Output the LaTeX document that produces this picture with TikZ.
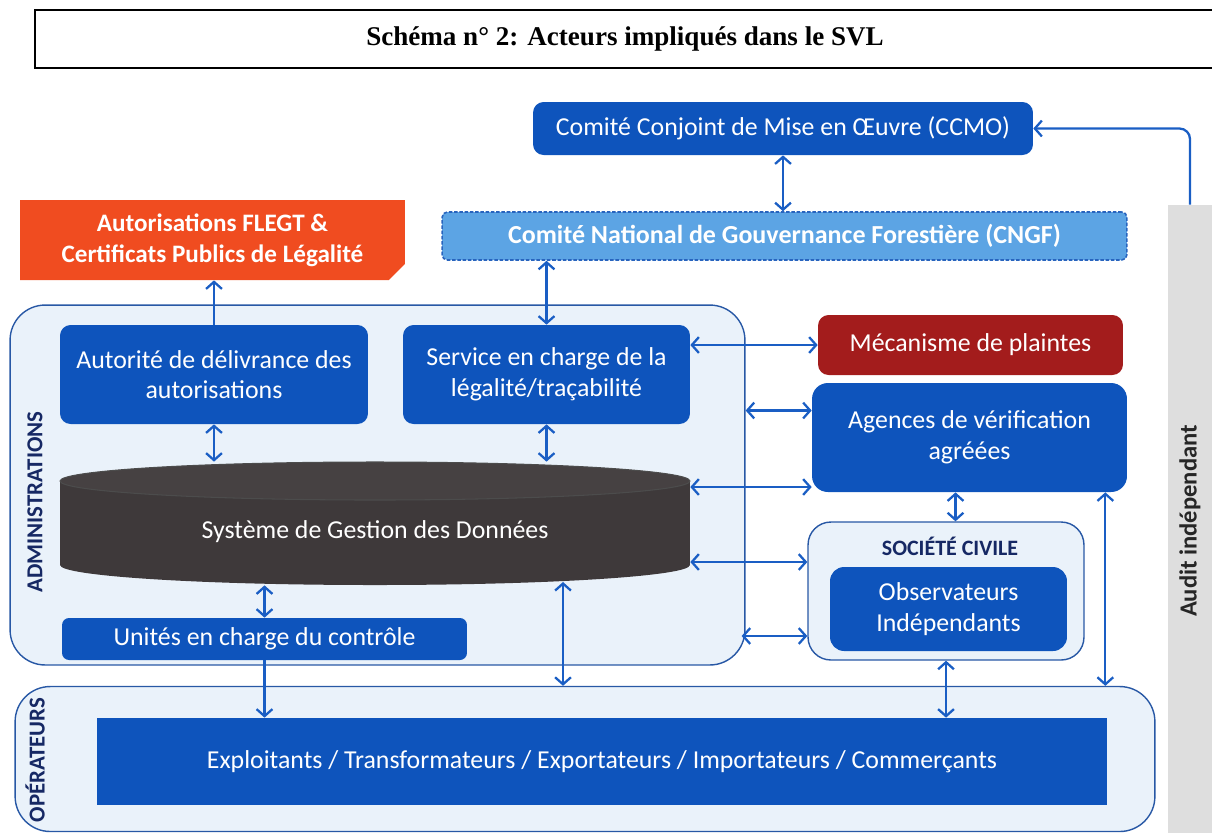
\documentclass[tikz,border=0pt]{standalone}
\usepackage{fontspec}
\setmainfont{Carlito}
\newfontfamily\ttlfont{Liberation Serif}
\usetikzlibrary{arrows.meta,shapes.misc,calc}
\definecolor{boxblue}{RGB}{14,84,188}
\definecolor{linkblue}{RGB}{26,94,196}
\definecolor{contfill}{RGB}{234,242,250}
\definecolor{contline}{RGB}{40,88,165}
\definecolor{cngffill}{RGB}{92,164,228}
\definecolor{cngfline}{RGB}{40,100,190}
\definecolor{flegtred}{RGB}{240,76,32}
\definecolor{plainred}{RGB}{163,28,28}
\definecolor{dbgray}{RGB}{62,57,58}
\definecolor{dbtop}{RGB}{70,65,66}
\definecolor{auditgray}{RGB}{222,222,222}
\definecolor{navy}{RGB}{22,40,100}
\newcommand\bxfont{\fontsize{14.7}{17.5}\selectfont}
\newcommand\lblfont{\bfseries\fontsize{13}{15}\selectfont}
\tikzset{
  box/.style={rectangle, rounded corners=6pt, fill=boxblue, text=white, inner sep=0pt, align=center, font=\bxfont},
  container/.style={rectangle, rounded corners=20pt, draw=contline, line width=0.8pt, fill=contfill, inner sep=0pt},
  link/.style={draw=linkblue, line width=1.3pt, {Straight Barb[length=4pt,width=9pt]}-{Straight Barb[length=4pt,width=9pt]}},
  onelink/.style={draw=linkblue, line width=1.3pt, -{Straight Barb[length=4pt,width=9pt]}},
  grouplabel/.style={font=\lblfont, text=navy, rotate=90, inner sep=0pt},
}
\begin{document}
\begin{tikzpicture}[x=0.02cm,y=-0.02cm]
\useasboundingbox (0,0) rectangle (1212,833);
% title
\node[draw=black, line width=1.5pt, minimum width=23.6cm, minimum height=1.16cm, inner sep=0pt,
      font=\ttlfont\bfseries\fontsize{15.4}{18}\selectfont] (title) at (625,39) {Schéma n° 2: Acteurs impliqués dans le SVL};
% audit bar
\node[fill=auditgray, minimum width=0.88cm, minimum height=12.56cm, inner sep=0pt] (audit) at (1190,519) {};
\node[rotate=90, font=\bfseries\fontsize{14}{16}\selectfont, text={black!85}] (auditlbl) at (1190,521) {Audit indépendant};
% containers
\node[container, minimum width=14.7cm, minimum height=7.2cm] (admin) at (377.5,485) {};
\node[container, minimum width=22.8cm, minimum height=2.9cm] (ops) at (585,759) {};
\node[container, rounded corners=13pt, minimum width=5.52cm, minimum height=2.76cm] (civ) at (946,591) {};
% labels
\node[grouplabel] (adminlbl) at (35,502) {ADMINISTRATIONS};
\node[grouplabel] (opslbl) at (35,760) {OPÉRATEURS};
\node[font=\bfseries\fontsize{12.5}{14}\selectfont, text=navy, inner sep=0pt] (civlbl) at (950,546) {SOCIÉTÉ CIVILE};
% top boxes
\node[box, minimum width=10cm, minimum height=1.06cm] (ccmo) at (783,128.5) {Comité Conjoint de Mise en Œuvre (CCMO)};
\node[box, rounded corners=3pt, fill=cngffill, draw=cngfline, dash pattern=on 2pt off 1pt, line width=0.9pt,
      font=\bfseries\fontsize{14.8}{17}\selectfont, minimum width=13.7cm, minimum height=0.96cm] (cngf) at (784.5,236) {Comité National de Gouvernance Forestière (CNGF)};
\node[chamfered rectangle, chamfered rectangle corners=south east, chamfered rectangle xsep=6pt, chamfered rectangle angle=45,
      fill=flegtred, text=white, align=center, inner sep=0pt, font=\bfseries\fontsize{14.3}{17.5}\selectfont,
      minimum width=7.7cm, minimum height=1.6cm] (flegt) at (212.5,240) {Autorisations FLEGT \&\\Certificats Publics de Légalité};
% administration boxes
\node[box, minimum width=6.16cm, minimum height=1.98cm] (aut) at (214,374.5) {Autorité de délivrance des\\autorisations};
\node[box, minimum width=5.74cm, minimum height=1.98cm] (serv) at (546.5,374.5) {Service en charge de la\\légalité/traçabilité};
% database cylinder
\node[minimum width=12.6cm, minimum height=2.46cm, inner sep=0pt] (db) at (375,523.5) {};
\fill[dbgray] (375,565) ellipse [x radius=6.3cm, y radius=0.4cm];
\fill[dbgray] (60,481) rectangle (690,565);
\fill[dbtop] (375,481) ellipse [x radius=6.3cm, y radius=0.38cm];
\draw[black!70, line width=0.6pt] (375,481) ellipse [x radius=6.3cm, y radius=0.38cm];
\node[text=white, font=\bxfont, inner sep=0pt] (dblbl) at (375,532) {Système de Gestion des Données};
\node[box, rounded corners=4pt, minimum width=8.1cm, minimum height=0.84cm] (unit) at (264.5,639) {Unités en charge du contrôle};
% right boxes
\node[box, fill=plainred, minimum width=6.1cm, minimum height=1.2cm] (plaintes) at (970.5,345) {Mécanisme de plaintes};
\node[box, rounded corners=9pt, minimum width=6.3cm, minimum height=2.18cm] (agences) at (969.5,437.5) {Agences de vérification\\agréées};
\node[box, rounded corners=8pt, minimum width=4.74cm, minimum height=1.68cm] (obs) at (948.5,609) {Observateurs\\Indépendants};
% operators
\node[box, rounded corners=0pt, minimum width=20.2cm, minimum height=1.74cm] (expl) at (602,761.5) {Exploitants / Transformateurs / Exportateurs / Importateurs / Commerçants};
% connectors
\draw[link] (ccmo.south) -- (ccmo.south |- cngf.north);
\draw[onelink, rounded corners=6pt] (audit.north) |- (ccmo.east);
\draw[onelink] (aut.north) -- (aut.north |- flegt.south);
\draw[link] (serv.north) -- (serv.north |- cngf.south);
\draw[link] (aut.south) -- (aut.south |- db.north);
\draw[link] (serv.south) -- (serv.south |- db.north);
\draw[link] (unit.north) -- (unit.north |- db.south);
\draw[onelink] (unit.south) -- (unit.south |- expl.north);
\coordinate (dbb) at (563,582);
\draw[link] (dbb) -- (dbb |- ops.north);
\draw[link] (serv.east |- plaintes.west) -- (plaintes.west);
\coordinate (agA) at ($(agences.west)+(0,-27)$);
\draw[link] (admin.east |- agA) -- (agA);
\coordinate (agB) at ($(agences.west)+(0,49.5)$);
\draw[link] (db.east |- agB) -- (agB);
\coordinate (cvA) at ($(civ.west)+(0,-29)$);
\draw[link] (db.east |- cvA) -- (cvA);
\coordinate (cvB) at ($(civ.west)+(0,45)$);
\draw[link] ($(admin.east |- cvB)+(-4,0)$) -- (cvB);
\coordinate (agC) at ($(agences.south)+(-14,0)$);
\draw[link] (agC) -- (agC |- civ.north);
\coordinate (agD) at ($(agences.south east)+(-22,0)$);
\draw[link] (agD) -- (agD |- ops.north);
\draw[link] (civ.south) -- (civ.south |- expl.north);
\end{tikzpicture}
\end{document}
